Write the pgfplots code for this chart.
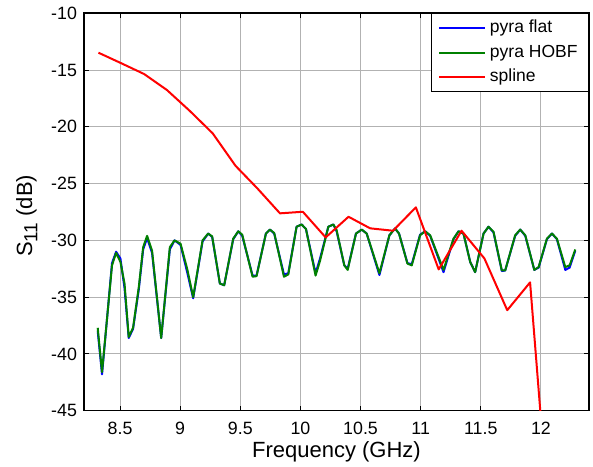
\documentclass[border=0pt]{standalone}
\usepackage{pgfplots}
\usepackage{pgfplotstable}
\pgfplotsset{compat=1.18}
\usepackage{fontspec}
\setmainfont{Liberation Sans}
\pgfplotstableread{
f db
8.314 -37.7
8.350 -41.6
8.433 -32.2
8.467 -31.1
8.503 -31.9
8.537 -33.8
8.572 -38.5
8.608 -37.7
8.656 -34.1
8.692 -30.6
8.725 -29.6
8.766 -30.9
8.842 -38.6
8.914 -30.6
8.953 -30.0
9.003 -30.3
9.058 -32.5
9.108 -35.0
9.186 -30.0
9.233 -29.4
9.266 -29.65
9.330 -33.8
9.366 -33.95
9.441 -29.85
9.483 -29.2
9.516 -29.5
9.602 -33.2
9.635 -33.15
9.713 -29.4
9.746 -29.05
9.782 -29.35
9.863 -33.2
9.899 -33.0
9.968 -28.8
10.010 -28.6
10.046 -29.0
10.126 -33.1
10.163 -31.8
10.232 -28.8
10.274 -28.6
10.301 -29.1
10.365 -32.2
10.393 -32.6
10.462 -29.4
10.510 -29.05
10.551 -29.4
10.657 -32.9
10.740 -29.55
10.787 -28.95
10.820 -29.4
10.890 -32.05
10.926 -32.2
10.995 -29.55
11.037 -29.2
11.079 -29.55
11.190 -32.6
11.273 -29.85
11.315 -29.2
11.356 -29.4
11.412 -31.9
11.453 -32.8
11.523 -29.4
11.564 -28.8
11.606 -29.25
11.675 -32.65
11.703 -32.65
11.786 -29.55
11.828 -29.05
11.870 -29.55
11.945 -32.6
11.981 -32.35
12.050 -29.85
12.092 -29.4
12.133 -29.85
12.203 -32.35
12.239 -32.2
12.286 -30.8
}\hobf
\pgfplotstableread{
f db
8.314 -38.0
8.350 -41.8
8.433 -32.0
8.467 -31.0
8.503 -31.6
8.537 -34.2
8.572 -38.6
8.608 -37.8
8.656 -34.3
8.692 -30.8
8.725 -29.8
8.766 -31.1
8.842 -38.6
8.914 -30.8
8.953 -30.0
9.003 -30.4
9.058 -32.8
9.108 -35.1
9.186 -30.1
9.233 -29.4
9.266 -29.7
9.330 -33.8
9.366 -33.95
9.441 -29.9
9.483 -29.2
9.516 -29.6
9.602 -33.1
9.635 -33.1
9.713 -29.4
9.746 -29.05
9.782 -29.4
9.863 -33.0
9.899 -32.9
9.968 -28.8
10.010 -28.6
10.046 -29.0
10.126 -32.9
10.163 -31.6
10.232 -28.8
10.274 -28.6
10.301 -29.2
10.365 -32.2
10.393 -32.5
10.462 -29.4
10.510 -29.05
10.551 -29.4
10.657 -33.05
10.740 -29.55
10.787 -28.95
10.820 -29.4
10.890 -32.0
10.926 -32.1
10.995 -29.5
11.037 -29.2
11.079 -29.6
11.190 -32.8
11.273 -29.9
11.315 -29.2
11.356 -29.4
11.412 -31.9
11.453 -32.8
11.523 -29.4
11.564 -28.8
11.606 -29.3
11.675 -32.7
11.703 -32.65
11.786 -29.6
11.828 -29.05
11.870 -29.6
11.945 -32.6
11.981 -32.4
12.050 -29.9
12.092 -29.4
12.133 -29.9
12.203 -32.6
12.239 -32.4
12.286 -30.9
}\flat
\pgfplotstableread{
f db
8.32 -13.47
8.51 -14.4
8.70 -15.35
8.89 -16.76
9.08 -18.6
9.27 -20.57
9.46 -23.43
9.64 -25.4
9.83 -27.62
10.02 -27.48
10.21 -29.74
10.40 -27.92
10.58 -28.94
10.77 -29.15
10.96 -27.09
11.15 -32.56
11.34 -29.15
11.53 -31.59
11.72 -36.15
11.91 -33.7
12.10 -59.0
}\spline
\begin{document}
\begin{tikzpicture}
\begin{axis}[
 name=ax,
 scale only axis,
 width=252.5pt, height=198.7pt,
 xmin=8.2, xmax=12.4, ymin=-45, ymax=-10,
 xtick={8.5,9,...,12}, ytick={-45,-40,...,-10},
 grid=major,
 major grid style={line width=0.5pt, draw=black!30},
 axis line style={line width=0.8pt},
 tick style={black, line width=0.5pt},
 major tick length=2.5pt,
 tick align=inside,
 /pgf/number format/assume math mode=true,
 ticklabel style={font=\fontsize{8.9}{10}\selectfont},
 xticklabel style={yshift=-2.3pt},
 label style={font=\fontsize{11}{13}\selectfont},
 xlabel={Frequency (GHz)},
 ylabel={S\raisebox{-0.45ex}{\fontsize{9.5}{10}\selectfont 11} (dB)},
 xlabel style={at={(axis description cs:0.5,0)}, anchor=north, yshift=-12.0pt},
 ylabel style={at={(axis description cs:-0.1135,0.49)}, anchor=center},
 legend style={at={(1,1)}, anchor=north east, draw=black, line width=0.5pt,
   font=\fontsize{8.75}{10}\selectfont, inner xsep=3.5pt, inner ysep=1.2pt, row sep=0pt,
   nodes={text height=6.6pt, text depth=2.1pt, inner ysep=1.75pt}},
 legend cell align=left,
 legend image code/.code={\draw[#1] (0pt,0pt) -- (22.8pt,0pt);},
]
\addplot[blue, line width=1pt, line join=round, mark=none] table[x=f,y=db] {\flat};
\addlegendentry{pyra flat}
\addplot[green!50!black, line width=1pt, line join=round, mark=none] table[x=f,y=db] {\hobf};
\addlegendentry{pyra HOBF}
\addplot[red, line width=1pt, line join=round, mark=none] table[x=f,y=db] {\spline};
\addlegendentry{spline}
\end{axis}
\pgfresetboundingbox
\path ([shift={(-42pt,-28.15pt)}]ax.south west) rectangle ([shift={(2pt,6.65pt)}]ax.north east);
\end{tikzpicture}
\end{document}
